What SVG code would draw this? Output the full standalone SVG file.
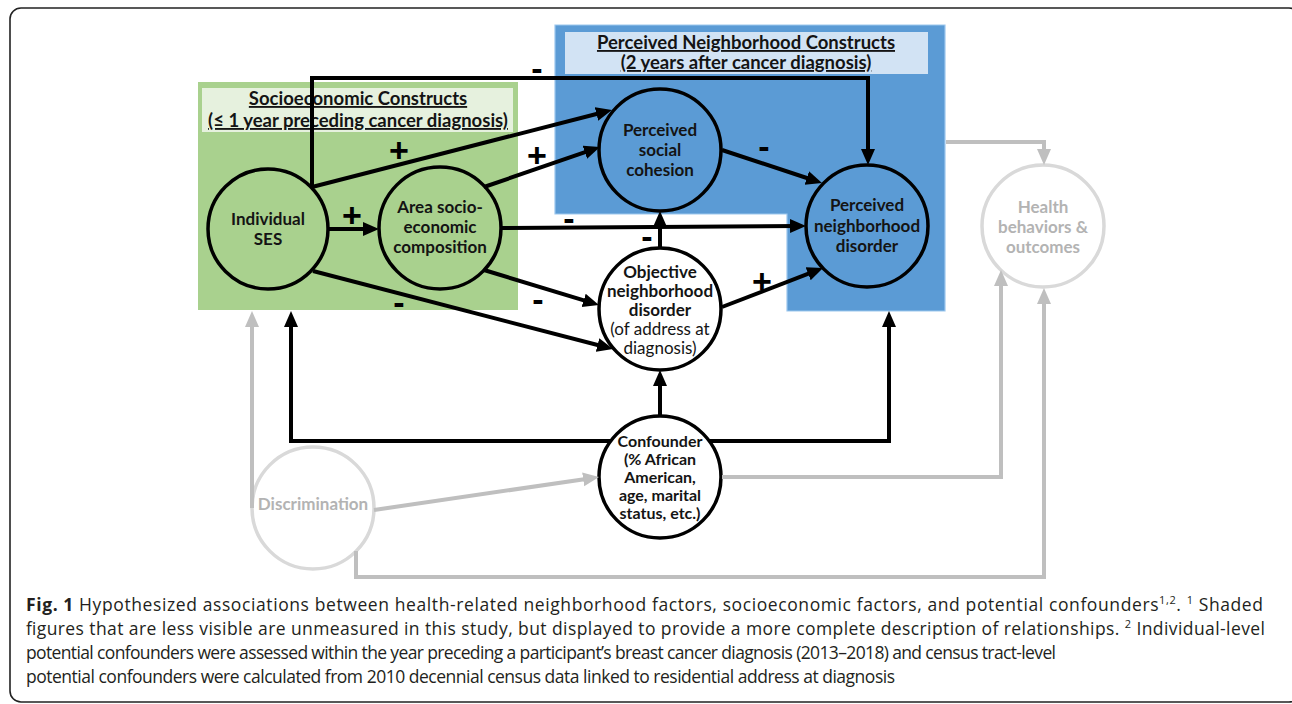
<svg xmlns="http://www.w3.org/2000/svg" width="1292" height="704" viewBox="0 0 1292 704">
<defs>
<style>
.frame{fill:#fff;stroke:#222;stroke-width:1.6}
.nb{stroke:#000;stroke-width:3.5}
.ng{stroke:#d9d9d9;stroke-width:3.5;fill:#fff}
.t{font-family:Lato,"Open Sans","DejaVu Sans",sans-serif;font-weight:bold;font-size:17px;text-anchor:middle;fill:#141414}
.ts{font-size:16px}
.tn{font-weight:normal}
.tg{fill:#b3b3b3}
.title{font-family:Lato,"Open Sans","DejaVu Sans",sans-serif;font-weight:bold;font-size:18.5px;text-anchor:middle;fill:#141414;text-decoration:underline}
.c{fill:none;stroke:#000;stroke-width:4}
.cg{fill:none;stroke:#bfbfbf;stroke-width:4}
.sign{font-family:"Liberation Sans",Arial,sans-serif;font-weight:bold;font-size:34px;text-anchor:middle;fill:#000}
.cap{font-family:"Open Sans","Noto Sans",sans-serif;font-size:17.5px;fill:#231f20}
</style>
<marker id="ah" markerUnits="userSpaceOnUse" markerWidth="16" markerHeight="16" viewBox="0 0 16 16" refX="8" refY="8" orient="auto"><path d="M0,1 L16,8 L0,15 Z" fill="#000"/></marker>
<marker id="ahg" markerUnits="userSpaceOnUse" markerWidth="16" markerHeight="16" viewBox="0 0 16 16" refX="8" refY="8" orient="auto"><path d="M0,1 L16,8 L0,15 Z" fill="#bfbfbf"/></marker>
</defs>
<rect class="frame" x="10" y="8" width="1290" height="694" rx="11"/>

<g id="socioeconomic-constructs">
<rect x="198" y="82" width="320" height="228" fill="#a9d18e"/>
<rect x="202" y="88" width="311" height="44" fill="#e6f1de"/>
<text class="title" x="358" y="105">Socioeconomic Constructs</text>
<text class="title" x="358" y="127">(≤ 1 year preceding cancer diagnosis)</text>
</g>

<g id="perceived-neighborhood-constructs">
<path d="M555,25 H945 V311 H787 V214 H555 Z" fill="#5b9bd5" stroke="#9cc7ee" stroke-width="1.2"/>
<rect x="565" y="32" width="363" height="42" fill="#d2e3f4"/>
<text class="title" x="746" y="49">Perceived Neighborhood Constructs</text>
<text class="title" x="746" y="69">(2 years after cancer diagnosis)</text>
</g>

<g id="individual-ses">
<circle class="nb" cx="268" cy="229" r="60" fill="#a9d18e"/>
<text class="t" x="268" y="225">Individual</text>
<text class="t" x="268" y="245">SES</text>
</g>

<g id="area-ses">
<circle class="nb" cx="440" cy="228" r="61" fill="#a9d18e"/>
<text class="t" x="440" y="213">Area socio-</text>
<text class="t" x="440" y="233">economic</text>
<text class="t" x="440" y="253">composition</text>
</g>

<g id="perceived-social-cohesion">
<circle class="nb" cx="660" cy="150" r="61" fill="#5b9bd5"/>
<text class="t" x="660" y="136">Perceived</text>
<text class="t" x="660" y="156">social</text>
<text class="t" x="660" y="176">cohesion</text>
</g>

<g id="perceived-neighborhood-disorder">
<circle class="nb" cx="867" cy="226" r="61" fill="#5b9bd5"/>
<text class="t" x="867" y="211">Perceived</text>
<text class="t" x="867" y="232">neighborhood</text>
<text class="t" x="867" y="252">disorder</text>
</g>

<g id="objective-neighborhood-disorder">
<circle class="nb" cx="660" cy="309" r="61" fill="#fff"/>
<text class="t" x="660" y="278">Objective</text>
<text class="t" x="660" y="297">neighborhood</text>
<text class="t" x="660" y="316">disorder</text>
<text class="t tn" x="660" y="335">(of address at</text>
<text class="t tn" x="660" y="354">diagnosis)</text>
</g>

<g id="confounder">
<circle class="nb" cx="660" cy="477" r="61" fill="#fff"/>
<text class="t ts" x="660" y="447">Confounder</text>
<text class="t ts" x="660" y="465">(% African</text>
<text class="t ts" x="660" y="483">American,</text>
<text class="t ts" x="660" y="501">age, marital</text>
<text class="t ts" x="660" y="519">status, etc.)</text>
</g>

<g id="discrimination">
<circle class="ng" cx="313" cy="508" r="61"/>
<text class="t tg" x="313" y="510">Discrimination</text>
</g>

<g id="health-behaviors-outcomes">
<circle class="ng" cx="1043" cy="226" r="61"/>
<text class="t tg" x="1043" y="213">Health</text>
<text class="t tg" x="1043" y="233">behaviors &amp;</text>
<text class="t tg" x="1043" y="253">outcomes</text>
</g>

<g id="connectors">
<path class="cg" d="M946,142 H1044 V157" marker-end="url(#ahg)"/>
<path class="cg" d="M722,477 H1001 V278" marker-end="url(#ahg)"/>
<path class="cg" d="M356,551 V577 H1044 V296" marker-end="url(#ahg)"/>
<path class="cg" d="M374,510 L591.1,478.2" marker-end="url(#ahg)"/>
<path class="cg" d="M252,508 V319" marker-end="url(#ahg)"/>

<path class="c" d="M328,229 H371" marker-end="url(#ah)"/>
<path class="c" d="M312,187 L604.2,112" marker-end="url(#ah)"/>
<path class="c" d="M312,187 V78 H868 V157" marker-end="url(#ah)"/>
<path class="c" d="M484,187 L592.4,149.6" marker-end="url(#ah)"/>
<path class="c" d="M501,228 L798,226" marker-end="url(#ah)"/>
<path class="c" d="M484,270 L591.3,302.7" marker-end="url(#ah)"/>
<path class="c" d="M313,271 L605.3,347" marker-end="url(#ah)"/>
<path class="c" d="M660,248 V219" marker-end="url(#ah)"/>
<path class="c" d="M722,307 L815.6,270.9" marker-end="url(#ah)"/>
<path class="c" d="M722,150 L814.4,180.5" marker-end="url(#ah)"/>
<path class="c" d="M660,416 V378" marker-end="url(#ah)"/>
<path class="c" d="M611,441 H291 V319" marker-end="url(#ah)"/>
<path class="c" d="M709,441 H889 V319" marker-end="url(#ah)"/>

<text class="sign" x="352" y="227">+</text>
<text class="sign" x="399" y="162">+</text>
<text class="sign" x="537" y="167">+</text>
<text class="sign" x="762" y="293">+</text>
<text class="sign" x="537" y="80">-</text>
<text class="sign" x="569" y="230">-</text>
<text class="sign" x="538" y="311">-</text>
<text class="sign" x="399" y="314">-</text>
<text class="sign" x="647" y="248">-</text>
<text class="sign" x="764" y="158">-</text>
</g>

<g id="caption">
<text class="cap" x="26" y="611" textLength="1237" lengthAdjust="spacing"><tspan font-weight="bold">Fig. 1</tspan> Hypothesized associations between health-related neighborhood factors, socioeconomic factors, and potential confounders<tspan font-size="11" dy="-7">1,2</tspan><tspan dy="7">. </tspan><tspan font-size="11" dy="-7">1</tspan><tspan dy="7"> Shaded</tspan></text>
<text class="cap" x="26" y="635" textLength="1239" lengthAdjust="spacing">figures that are less visible are unmeasured in this study, but displayed to provide a more complete description of relationships. <tspan font-size="11" dy="-7">2</tspan><tspan dy="7"> Individual-level</tspan></text>
<text class="cap" x="26" y="659" textLength="1030" lengthAdjust="spacing">potential confounders were assessed within the year preceding a participant’s breast cancer diagnosis (2013–2018) and census tract-level</text>
<text class="cap" x="26" y="683" textLength="869" lengthAdjust="spacing">potential confounders were calculated from 2010 decennial census data linked to residential address at diagnosis</text>
</g>
</svg>
